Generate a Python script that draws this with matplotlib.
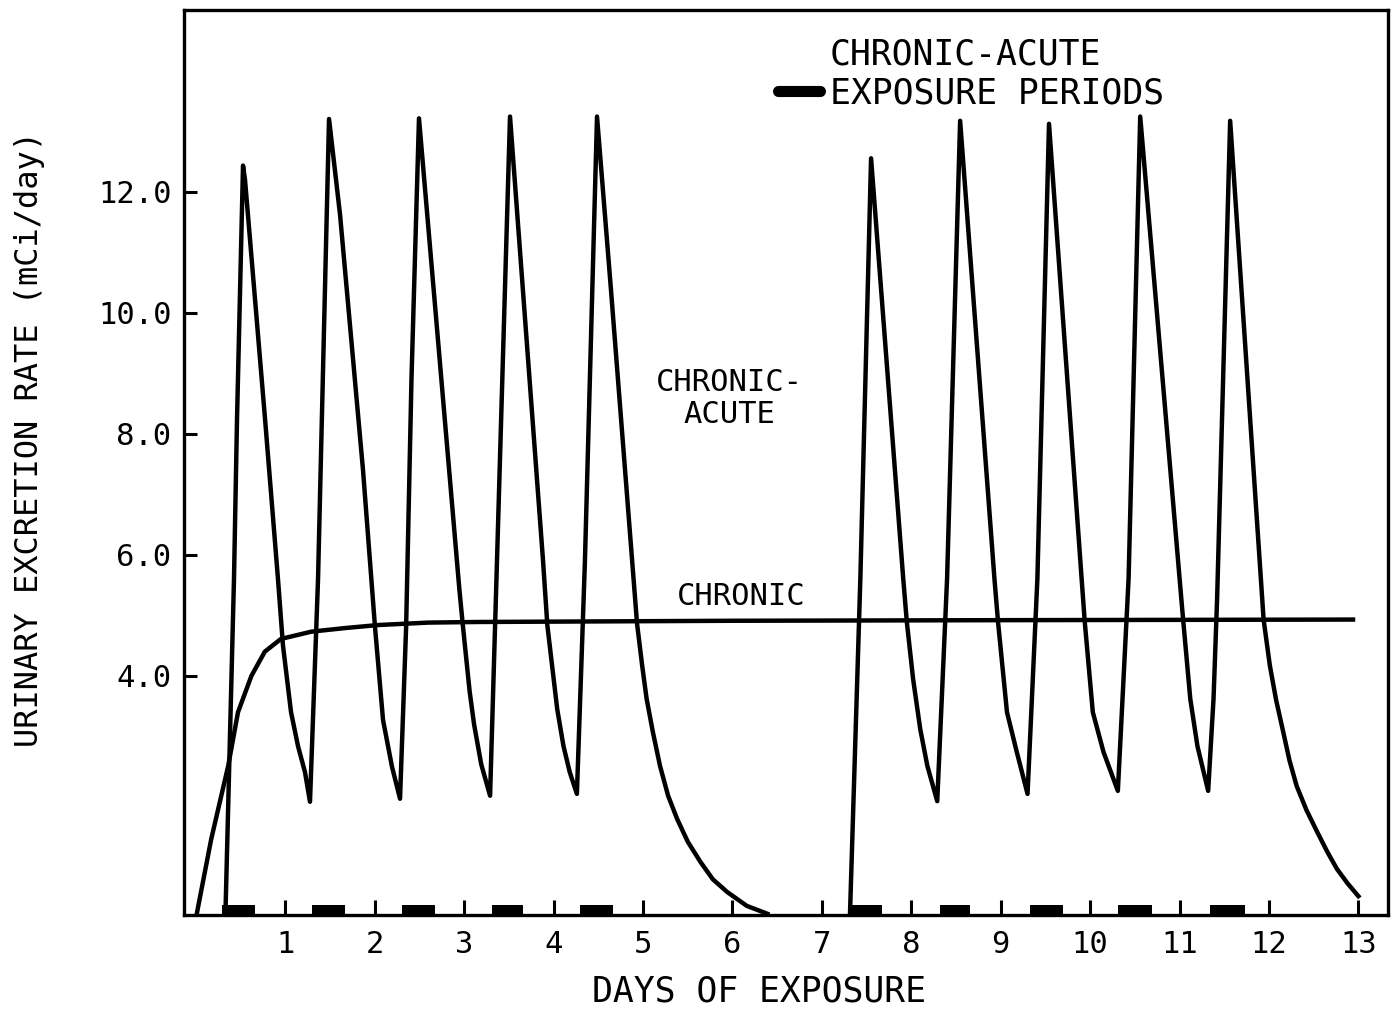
import matplotlib
matplotlib.use("Agg")
import matplotlib.pyplot as plt
from matplotlib.lines import Line2D

# chronic-acute exposure, week 1 (days, mCi/day)
week1_days = [0.33, 0.425, 0.459, 0.526,
              0.548, 0.772, 0.917, 0.973, 1.063, 1.141, 1.219, 1.275,
              1.365, 1.488,
              1.611, 1.756, 1.868, 2.002, 2.092, 2.192, 2.282,
              2.35, 2.41, 2.494,
              2.945, 2.98, 3.06, 3.11, 3.19, 3.289,
              3.367, 3.512,
              3.88, 3.93, 4.04, 4.11, 4.18, 4.26,
              4.35, 4.485,
              4.64, 4.933, 4.99, 5.04, 5.11, 5.19, 5.28, 5.38, 5.50,
              5.64, 5.78, 5.94, 6.16, 6.39]
week1_rate = [0.1, 5.6, 8.25, 12.43,
              12.2, 8.25, 5.6, 4.5, 3.4, 2.84, 2.41, 1.92,
              5.6, 13.2,
              11.62, 9.24, 7.4, 4.81, 3.27, 2.5, 1.97,
              4.8, 8.9, 13.21,
              5.44, 4.9, 3.75, 3.2, 2.54, 2.02,
              5.93, 13.24,
              5.93, 4.83, 3.45, 2.84, 2.41, 2.05,
              5.9, 13.24,
              10.4, 4.86, 4.17, 3.62, 3.07, 2.51, 2.02, 1.64, 1.26,
              0.93, 0.64, 0.43, 0.2, 0.07]

# chronic-acute exposure, week 2
week2_days = [7.315, 7.43, 7.55,
              7.91, 7.95, 8.02, 8.10, 8.18, 8.29,
              8.40, 8.546,
              8.93, 8.97, 9.07, 9.18, 9.30,
              9.41, 9.54,
              9.905, 9.94, 10.03, 10.15, 10.31,
              10.43, 10.56,
              11.02, 11.04, 11.12, 11.20, 11.32,
              11.38, 11.42, 11.566,
              11.94, 12.01, 12.08, 12.16, 12.23, 12.31, 12.42, 12.54,
              12.65, 12.76, 12.88, 13.0]
week2_rate = [0.1, 5.6, 12.55,
              5.6, 4.89, 3.95, 3.12, 2.51, 1.93,
              5.6, 13.17,
              5.6, 4.89, 3.40, 2.74, 2.05,
              5.6, 13.12,
              5.6, 4.89, 3.40, 2.74, 2.1,
              5.6, 13.24,
              5.27, 4.93, 3.62, 2.84, 2.10,
              3.62, 5.27, 13.17,
              4.93, 4.17, 3.6, 3.07, 2.6, 2.18, 1.78, 1.42,
              1.1, 0.81, 0.57, 0.36]

# chronic exposure
chronic_days = [0.0, 0.17, 0.36, 0.47, 0.62, 0.77, 0.95, 1.29, 1.67, 2.04,
                2.6, 3.15, 6.0, 9.0, 12.94]
chronic_rate = [0.0, 1.3, 2.51, 3.4, 4.0, 4.4, 4.61, 4.73, 4.79, 4.84,
                4.88, 4.89, 4.91, 4.92, 4.93]

# exposure periods (start, end) in days
exp_start = [0.29, 1.30, 2.30, 3.31, 4.30, 7.29, 8.32, 9.33, 10.31, 11.34]
exp_end = [0.66, 1.67, 2.67, 3.66, 4.66, 7.67, 8.66, 9.70, 10.69, 11.73]

x_ticks = list(range(1, 14))
y_ticks = [4.0, 6.0, 8.0, 10.0, 12.0]

plt.rcParams['font.family'] = ['DejaVu Sans Mono', 'DejaVu Sans']

fig = plt.figure(figsize=(13.95, 10.11), dpi=100)
ax = fig.add_axes([0.1319, 0.0950, 0.8630, 0.8951])

ax.plot(week1_days, week1_rate, color='black', lw=3.2)
ax.plot(week2_days, week2_rate, color='black', lw=3.2)
ax.plot(chronic_days, chronic_rate, color='black', lw=3.2)

widths = [e - s for s, e in zip(exp_start, exp_end)]
ax.broken_barh(list(zip(exp_start, widths)), (0.05, 0.17), facecolor='black')

ax.set_xlim(-0.134, 13.33)
ax.set_ylim(0.05, 15.0)

ax.set_xticks(x_ticks)
ax.set_xticklabels([str(t) for t in x_ticks])
ax.set_yticks(y_ticks)
ax.set_yticklabels(["%.1f" % t for t in y_ticks])
ax.tick_params(axis='x', direction='in', length=11, width=2.2, pad=11, labelsize=22)
ax.tick_params(axis='y', direction='in', length=9, width=2.2, pad=9, labelsize=22)

for sp in ax.spines.values():
    sp.set_linewidth(2.4)

ax.set_xlabel("DAYS OF EXPOSURE", fontsize=25, va='center')
ax.xaxis.set_label_coords(0.478, -0.085)
ax.set_ylabel("URINARY EXCRETION RATE (mCi/day)", fontsize=23, va='center')
ax.yaxis.set_label_coords(-0.128, 0.526)

ax.text(5.97, 8.58, "CHRONIC-\nACUTE", fontsize=22, ha='center', va='center',
        multialignment='center', linespacing=1.15)
ax.text(6.10, 5.31, "CHRONIC", fontsize=22, ha='center', va='center')

# legend key for the exposure bars
ax.text(0.5365, 0.9503, "CHRONIC-ACUTE", fontsize=25, ha='left', va='center',
        transform=ax.transAxes)
key = Line2D([], [], color='black', lw=8, solid_capstyle='round')
ax.legend([key], ["EXPOSURE PERIODS"], loc='center left',
          bbox_to_anchor=(0.4934, 0.9080), frameon=False, fontsize=25,
          handlelength=1.2, handletextpad=0.3, borderpad=0, borderaxespad=0)

fig.savefig("out.png", dpi=100)
